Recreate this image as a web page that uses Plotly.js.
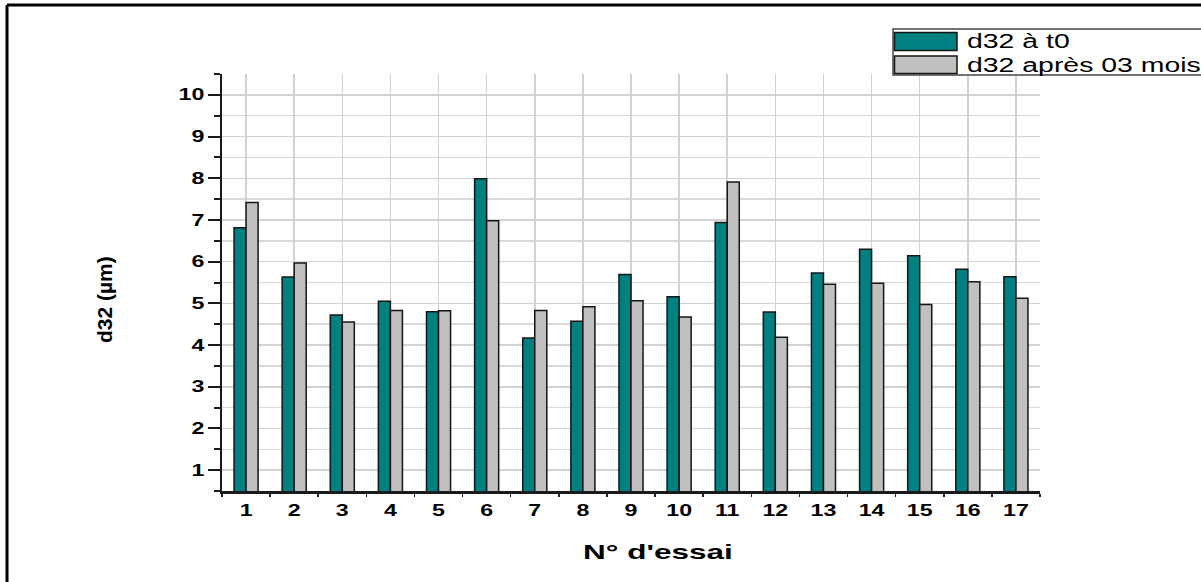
<!DOCTYPE html>
<html>
<head>
<meta charset="utf-8">
<script src="https://cdn.plot.ly/plotly-3.0.1.min.js"></script>
<style>
  html, body { margin: 0; padding: 0; background: #ffffff; }
  #chart { width: 1201px; height: 582px; }
</style>
</head>
<body>
<div id="chart"></div>
<script>
// ---- data ----
const essais = [1, 2, 3, 4, 5, 6, 7, 8, 9, 10, 11, 12, 13, 14, 15, 16, 17];
const d32_t0 = [6.81, 5.63, 4.72, 5.05, 4.80, 7.99, 4.17, 4.57, 5.69, 5.16, 6.94, 4.79, 5.73, 6.30, 6.14, 5.82, 5.64];
const d32_3mois = [7.42, 5.97, 4.55, 4.83, 4.82, 6.98, 4.83, 4.92, 5.06, 4.67, 7.91, 4.19, 5.46, 5.48, 4.97, 5.52, 5.12];
const seriesNames = ["d32 à t0", "d32 après 03 mois"];
const seriesColors = ["#008080", "#c0c0c0"];
const xTitle = "N° d'essai";
const yTitle = "d32 (µm)";

// ---- layout geometry (pixels) ----
const W = 1201, H = 582;
const M = { l: 222, r: 161, t: 74, b: 91 };
const PW = W - M.l - M.r, PH = H - M.t - M.b;
const px = v => (v - M.l) / PW;           // pixel x -> paper
const py = v => (H - M.b - v) / PH;       // pixel y -> paper

const FONT = "Liberation Sans, Arial, sans-serif";

const traces = [d32_t0, d32_3mois].map((vals, i) => ({
  type: "bar",
  x: essais,
  y: vals,
  name: seriesNames[i],
  showlegend: false,
  marker: { color: seriesColors[i], line: { color: "#151515", width: 1.5 } },
  hoverinfo: "x+y"
}));

const shapes = [
  // outer frame (top + left)
  { type: "line", xref: "paper", yref: "paper", x0: px(7), x1: px(1260), y0: py(5), y1: py(5), line: { color: "#000", width: 3 } },
  { type: "line", xref: "paper", yref: "paper", x0: px(7), x1: px(7), y0: py(5), y1: py(640), line: { color: "#000", width: 3 } },
  // legend box
  { type: "rect", xref: "paper", yref: "paper", x0: px(893), x1: px(1260), y0: py(29), y1: py(75), line: { color: "#444", width: 1.5 }, fillcolor: "#fff", layer: "above" },
  // legend swatches
  { type: "rect", xref: "paper", yref: "paper", x0: px(894.5), x1: px(957), y0: py(32.5), y1: py(50.5), line: { color: "#151515", width: 1.5 }, fillcolor: seriesColors[0], layer: "above" },
  { type: "rect", xref: "paper", yref: "paper", x0: px(894.5), x1: px(957), y0: py(56), y1: py(73.5), line: { color: "#151515", width: 1.5 }, fillcolor: seriesColors[1], layer: "above" }
];

const annotations = [
  { xref: "paper", yref: "paper", x: px(965), y: py(41), xanchor: "left", yanchor: "middle", align: "left", showarrow: false,
    text: seriesNames[0], font: { family: FONT, size: 20, color: "#000" } },
  { xref: "paper", yref: "paper", x: px(965), y: py(65.5), xanchor: "left", yanchor: "middle", align: "left", showarrow: false,
    text: seriesNames[1], font: { family: FONT, size: 20, color: "#000" } },
  { xref: "paper", yref: "paper", x: px(658), y: py(551), xanchor: "center", yanchor: "middle", showarrow: false,
    text: xTitle, font: { family: FONT, size: 21, color: "#000", weight: "bold" } },
  { xref: "paper", yref: "paper", x: px(104), y: py(300), xanchor: "center", yanchor: "middle", showarrow: false, textangle: -90,
    text: yTitle, font: { family: FONT, size: 21, color: "#000", weight: "bold" } }
];

const layout = {
  width: W, height: H,
  margin: M,
  paper_bgcolor: "#fff", plot_bgcolor: "#fff",
  barmode: "group", bargap: 0.5, bargroupgap: 0,
  showlegend: false,
  font: { family: FONT, color: "#000" },
  xaxis: {
    range: [0.5, 17.5], tickmode: "linear", tick0: 1, dtick: 1,
    ticks: "", showline: true, linecolor: "#1a1a1a", linewidth: 2.5,
    showgrid: true, gridcolor: "#d2d2d2", gridwidth: 1.5, zeroline: false,
    tickfont: { family: FONT, size: 16, color: "#000", weight: "bold" },
    ticklabelstandoff: 3,
    minor: { tick0: 0.5, dtick: 1, ticks: "outside", ticklen: 3, tickwidth: 1.5, tickcolor: "#222", showgrid: false }
  },
  yaxis: {
    range: [0.5, 10.5], tickmode: "linear", tick0: 0, dtick: 1,
    ticks: "outside", ticklen: 12, tickwidth: 2, tickcolor: "#1a1a1a",
    showline: true, linecolor: "#1a1a1a", linewidth: 2.5,
    showgrid: true, gridcolor: "#d2d2d2", gridwidth: 1.5, zeroline: false,
    tickfont: { family: FONT, size: 16, color: "#000", weight: "bold" },
    minor: { dtick: 0.5, ticks: "outside", ticklen: 6, tickwidth: 2, tickcolor: "#1a1a1a", showgrid: true, gridcolor: "#d9d9d9", gridwidth: 1.5 }
  },
  shapes: shapes,
  annotations: annotations
};

Plotly.newPlot("chart", traces, layout, { displayModeBar: false, staticPlot: true }).then(gd => {
  // widen text horizontally, as in the reference rendering
  const stretch = (el, f) => {
    const w = el.getComputedTextLength();
    if (w > 0) { el.setAttribute("textLength", (w * f).toFixed(1)); el.setAttribute("lengthAdjust", "spacingAndGlyphs"); }
  };
  gd.querySelectorAll(".xtick text, .ytick text").forEach(t => stretch(t, 1.45));
  const ann = gd.querySelectorAll(".annotation-text");
  if (ann[0]) stretch(ann[0], 1.42);
  if (ann[1]) stretch(ann[1], 1.42);
  if (ann[2]) stretch(ann[2], 1.5);
});
</script>
</body>
</html>
